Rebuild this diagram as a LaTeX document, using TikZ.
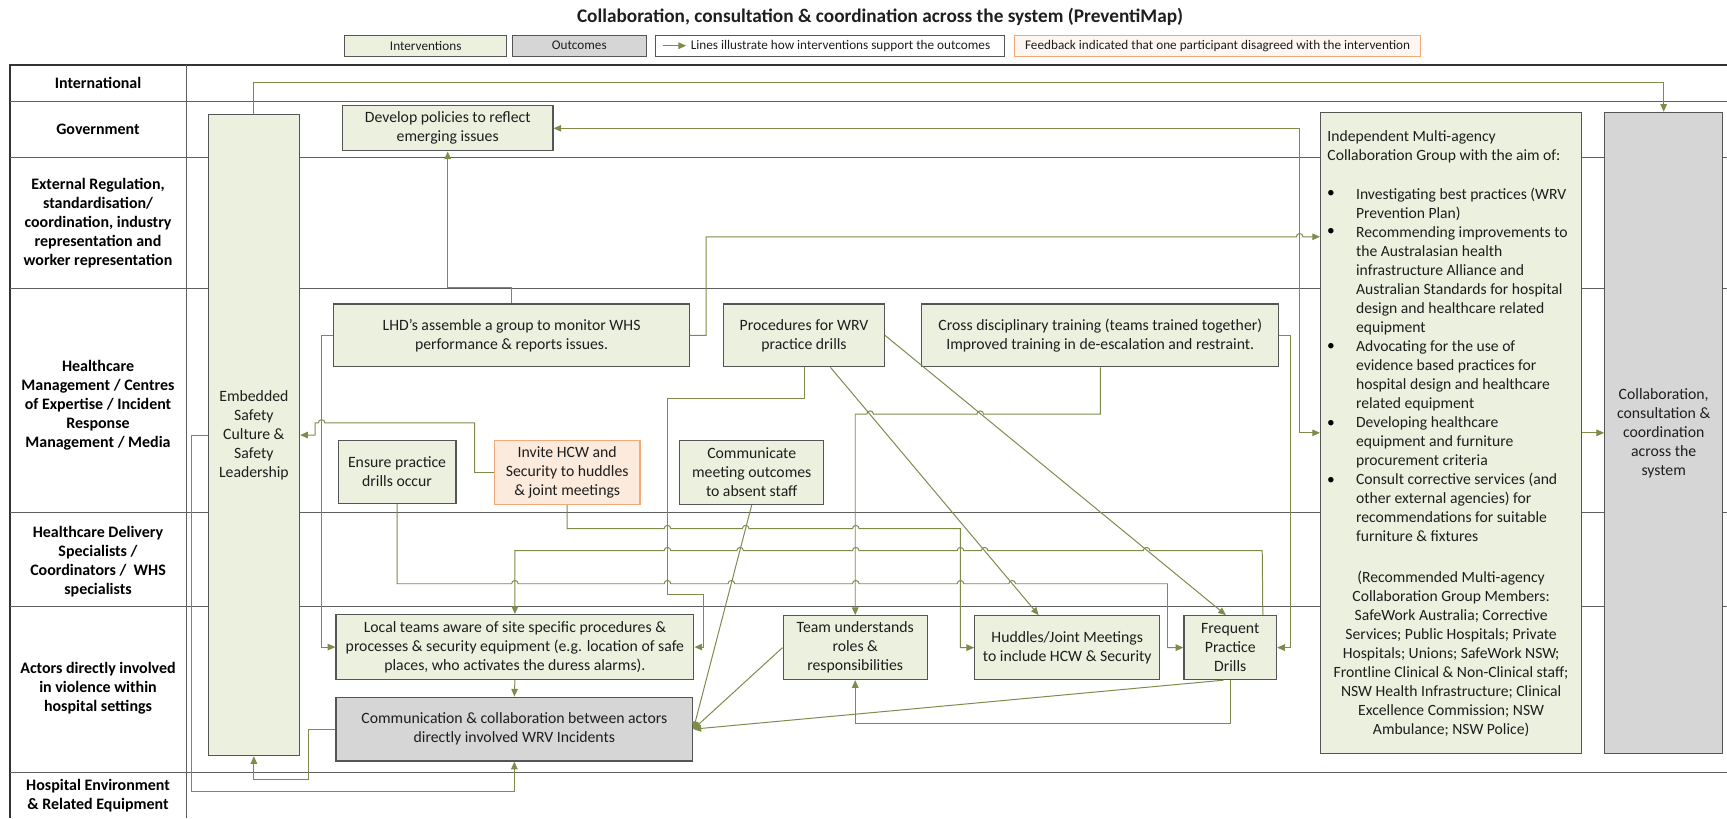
\documentclass[tikz,border=0pt]{standalone}
\usepackage{fontspec}
\setmainfont{Carlito}
\usetikzlibrary{arrows.meta}
\definecolor{intfill}{RGB}{235,241,222}
\definecolor{outfill}{RGB}{214,214,214}
\definecolor{boxline}{RGB}{85,85,85}
\definecolor{conncol}{RGB}{125,140,75}
\definecolor{sepcol}{RGB}{95,95,95}
\definecolor{orfill}{RGB}{252,234,220}
\definecolor{orline}{RGB}{242,170,120}
\definecolor{txtcol}{RGB}{30,30,30}
\tikzset{
  txt/.style={font=\fontsize{14.3}{17.25}\selectfont, align=center, inner sep=0pt, text=txtcol},
  intv/.style={txt, draw=boxline, fill=intfill, line width=1.1pt},
  outc/.style={intv, fill=outfill},
  orng/.style={intv, draw=orline, fill=orfill},
  legbox/.style={draw=boxline, line width=0.8pt, inner sep=0pt, font=\fontsize{12}{14}\selectfont, text=txtcol, minimum height=19pt},
  conn/.style={draw=conncol, line width=0.9pt, -{Triangle[length=7pt,width=6pt]}},
  conntwo/.style={draw=conncol, line width=0.9pt, {Triangle[length=7pt,width=6pt]}-{Triangle[length=7pt,width=6pt]}},
  rowlab/.style={font=\bfseries\fontsize{14.5}{17.25}\selectfont, align=center, text=black, inner sep=0pt},
  sep/.style={draw=sepcol, line width=1pt},
  frame/.style={draw=black!80, line width=1.3pt},
  ptext/.style={font=\fontsize{14.2}{17.25}\selectfont, align=left, inner sep=0pt, anchor=north west, text=txtcol},
  ctext/.style={font=\fontsize{14.2}{17.25}\selectfont, align=center, inner sep=0pt, anchor=north, text=txtcol},
  hr/.style args={#1/#2}{insert path={-- ({#1-3},#2) arc[start angle=180,end angle=0,radius=3pt]}},
  hl/.style args={#1/#2}{insert path={-- ({#1+3},#2) arc[start angle=0,end angle=180,radius=3pt]}},
}
\newcommand{\fs}{\rule{0pt}{12.5pt}}
\begin{document}
\begin{tikzpicture}[x=1pt,y=-1pt]
\useasboundingbox[fill=white] (0,0) rectangle (1568,743);

% title and legend
\node[font=\bfseries\fontsize{17.5}{21}\selectfont, text=txtcol] (title) at (799,15) {Collaboration, consultation \& coordination across the system (PreventiMap)};
\node[legbox, fill=intfill, minimum width=147pt] (lgI) at (386.5,41.5) {Interventions};
\node[legbox, fill=outfill, minimum width=122pt] (lgO) at (526,41.5) {Outcomes};
\node[legbox, fill=white, minimum width=317pt] (lgL) at (753.5,41.5) {};
\node[anchor=west, inner sep=0pt, font=\fontsize{12}{14}\selectfont, text=txtcol] (lgLt) at (627,41.5) {Lines illustrate how interventions support the outcomes};
\coordinate (la) at (602,41.5);
\coordinate (lb) at (623,41.5);
\draw[conn] (la) -- (lb);
\node[legbox, draw=orline, fill=orfill!40, minimum width=369pt] (lgF) at (1105.5,41.5) {Feedback indicated that one participant disagreed with the intervention};

% frame and swimlanes
\draw[frame] (1568,59) -- (9,59) -- (9,743);
\draw[sep] (169,59) -- (169,743);
\foreach \yy in {92,143,262,465,551,701} \draw[sep] (9,\yy) -- (1568,\yy);

% row labels
\node[rowlab] (r1) at (89,75.5) {International};
\node[rowlab] (r2) at (89,117.5) {Government};
\node[rowlab] (r3) at (89,203) {External Regulation,\\standardisation/\\coordination, industry\\representation and\\worker representation};
\node[rowlab] (r4) at (89,368) {Healthcare\\Management / Centres\\of Expertise / Incident\\Response\\Management / Media};
\node[rowlab] (r5) at (89,510) {Healthcare Delivery\\Specialists /\\Coordinators /\ \ WHS\\specialists};
\node[rowlab] (r6) at (89,625) {Actors directly involved\\in violence within\\hospital settings};
\node[rowlab] (r7) at (89,722) {Hospital Environment\\\& Related Equipment};

% boxes
\node[intv, minimum width=83pt, minimum height=582pt] (emb) at (230.5,395) {Embedded\\Safety\\Culture \&\\Safety\\Leadership};
\node[intv, minimum width=191pt, minimum height=41pt] (dev) at (406.5,116.5) {Develop policies to reflect\\emerging issues};
\node[intv, minimum width=323pt, minimum height=57pt] (lhd) at (464.5,304.5) {LHD’s assemble a group to monitor WHS\\performance \& reports issues.};
\node[intv, minimum width=146pt, minimum height=57pt] (proc) at (730,304.5) {Procedures for WRV\\practice drills};
\node[intv, minimum width=324pt, minimum height=57pt] (cross) at (999,304.5) {Cross disciplinary training (teams trained together)\\Improved training in de-escalation and restraint.};
\node[intv, minimum width=107pt, minimum height=57pt] (ens) at (360.5,428.5) {Ensure practice\\drills occur};
\node[orng, minimum width=132pt, minimum height=58pt] (inv) at (515,429) {Invite HCW and\\Security to huddles\\\& joint meetings};
\node[intv, minimum width=131pt, minimum height=58pt] (comm) at (682.5,429) {Communicate\\meeting outcomes\\to absent staff};
\node[intv, minimum width=325pt, minimum height=59pt] (local) at (467.5,587.5) {Local teams aware of site specific procedures \&\\processes \& security equipment (e.g. location of safe\\places, who activates the duress alarms).};
\node[outc, minimum width=324pt, minimum height=58pt] (coll) at (467,662) {Communication \& collaboration between actors\\directly involved WRV Incidents};
\node[intv, minimum width=131pt, minimum height=58pt] (team) at (776.5,588) {Team understands\\roles \&\\responsibilities};
\node[intv, minimum width=168pt, minimum height=58pt] (hud) at (969,588) {Huddles/Joint Meetings\\to include HCW \& Security};
\node[intv, minimum width=84pt, minimum height=58pt] (freq) at (1117,588) {Frequent\\Practice\\Drills};
\node[intv, minimum width=237pt, minimum height=582pt] (multi) at (1317.5,393) {};
\node[outc, minimum width=107pt, minimum height=582pt] (csys) at (1510.5,393) {Collaboration,\\consultation \&\\coordination\\across the\\system};

% multi-agency text
\node[ptext] (mh) at (1205,115.5) {\fs Independent Multi-agency\\Collaboration Group with the aim of:};
\node[ptext] (m1) at (1231,168) {\fs Investigating best practices (WRV\\Prevention Plan)};
\node[ptext] (m2) at (1231,202.5) {\fs Recommending improvements to\\the Australasian health\\infrastructure Alliance and\\Australian Standards for hospital\\design and healthcare related\\equipment};
\node[ptext] (m3) at (1231,306) {\fs Advocating for the use of\\evidence based practices for\\hospital design and healthcare\\related equipment};
\node[ptext] (m4) at (1231,375) {\fs Developing healthcare\\equipment and furniture\\procurement criteria};
\node[ptext] (m5) at (1231,427) {\fs Consult corrective services (and\\other external agencies) for\\recommendations for suitable\\furniture \& fixtures};
\foreach \by/\bn in {176/b1,211/b2,315/b3,385/b4,437/b5}
  \node[inner sep=0pt, font=\fontsize{14}{17}\selectfont] (\bn) at (1208.5,\by) {\textbullet};
\node[ctext] (mm) at (1317.5,516) {\fs (Recommended Multi-agency\\Collaboration Group Members:\\SafeWork Australia; Corrective\\Services; Public Hospitals; Private\\Hospitals; Unions; SafeWork NSW;\\Frontline Clinical \& Non-Clinical staff;\\NSW Health Infrastructure; Clinical\\Excellence Commission; NSW\\Ambulance; NSW Police)};

% connectors
\draw[conn] (emb.north) -- (230.5,75) -- (1510.5,75) -- (csys.north);
\draw[conn] (multi.east) -- (csys.west);
\draw[conntwo] (dev.east) -- (1180,116.5) -- (1180,393) -- (multi.west);
\draw[conn] (lhd.east) -- (641,304.5) -- (641,215) [hr=1180/215] -- ([yshift=178pt]multi.west);
\draw[conn] (lhd.north) -- (464.5,261) -- (406.5,261) -- (dev.south);
\draw[conn] (lhd.west) -- (292,304.5) -- (292,587.5) -- (local.west);
\draw[conn] (inv.west) -- (431,429) -- (431,384) [hl=292/384] -- (286,384) -- (286,395) -- (emb.east);
\draw[conn] (emb.west) -- (174,395) -- (174,719) -- (467,719) -- (coll.south);
\draw[conn] (coll.west) -- (280,662) -- (280,708) -- (230.5,708) -- (emb.south);
\draw[conn] (local.south) -- (coll.north);
\draw[conn] (inv.south) -- (515,480) [hr=606/480] [hr=677/480] [hr=777/480] -- (872,480) -- (872,588) -- (hud.west);
\draw[conn] ([xshift=-13pt]freq.north east) -- (1146,500) [hl=1041/500] [hl=894/500] [hl=872/500] [hl=777/500] [hl=672/500] [hl=606/500] -- (467.5,500) -- (local.north);
\draw[conn] (ens.south) -- (360.5,530) [hr=467.5/530] [hr=606/530] [hr=664/530] [hr=777/530] [hr=872/530] [hr=919/530] -- (1060,530) -- (1060,588) -- (freq.west);
\draw[conn] (proc.south) -- (730,362) -- (606,362) -- (606,540) -- (639,540) -- (639,587.5) -- (local.east);
\draw[conn] (cross.south) -- (999,376) [hl=890/376] [hl=790/376] -- (776.5,376) -- (team.north);
\draw[conn] (proc.east) -- ([xshift=-4pt]freq.north);
\draw[conn] ([xshift=24pt]proc.south) -- ([xshift=-26pt]hud.north);
\draw[conn] (comm.south) -- (coll.east);
\draw[conn] (team.west) -- (coll.east);
\draw[conn] ([xshift=-6pt]freq.south) -- (coll.east);
\draw[conn] (freq.south) -- (1117,657) -- (776.5,657) -- (team.south);
\draw[conn] (cross.east) -- (1172,304.5) -- (1172,588) -- (freq.east);
\end{tikzpicture}
\end{document}
